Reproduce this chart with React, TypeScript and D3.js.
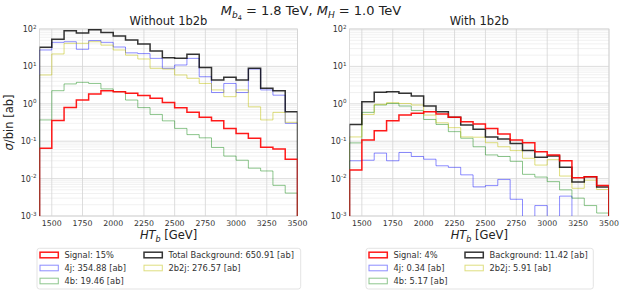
import React from "react";
import * as d3 from "d3";

// ---------- data ----------
const binEdges = [1400, 1500, 1600, 1700, 1800, 1900, 2000, 2100, 2200, 2300, 2400, 2500, 2600, 2700, 2800, 2900, 3000, 3100, 3200, 3300, 3400, 3500];
const xTicks = [1500, 1750, 2000, 2250, 2500, 2750, 3000, 3250, 3500];
const yTickExps = [-3, -2, -1, 0, 1, 2];

// Without 1b2b
const signalL = [0.065, 0.36, 0.8, 1.26, 1.82, 2.24, 2.1, 1.9, 1.66, 1.4, 1.08, 0.79, 0.59, 0.44, 0.35, 0.22, 0.16, 0.12, 0.069, 0.062, 0.033];
const totalL = [32.5, 53, 90, 78, 96, 81, 65, 51, 40, 26, 17, 16.4, 21, 9.4, 4.3, 5.1, 4.3, 8.9, 2.6, 2.24, 0.61];
const j4L = [27.5, 44, 45.7, 28.7, 49, 44, 33, 23, 22, 16.4, 8.9, 10.9, 16.4, 5.3, 2.0, 3.5, 2.0, 8.5, 2.35, 1.7, 0.3];
const b4L = [0.37, 2.24, 3.4, 3.75, 3.5, 2.5, 2.1, 1.26, 0.79, 0.52, 0.35, 0.22, 0.15, 0.123, 0.068, 0.04, 0.031, 0.019, 0.016, 0.0066, 0.0041];
const b2j2L = [5.9, 21.5, 41.5, 41.5, 45.7, 37, 27.5, 20, 15.8, 8.9, 8.5, 5.9, 4.8, 3.5, 2.35, 1.55, 2.35, 0.83, 0.37, 0.59, 0.32];

// With 1b2b
const signalR = [0.017, 0.107, 0.19, 0.35, 0.5, 0.56, 0.61, 0.53, 0.44, 0.33, 0.29, 0.22, 0.155, 0.107, 0.091, 0.052, 0.043, 0.03, 0.0105, 0.0112, 0.0065];
const totalR = [0.28, 1.14, 2.04, 2.1, 1.9, 1.62, 0.87, 0.61, 0.44, 0.27, 0.21, 0.13, 0.115, 0.087, 0.056, 0.037, 0.04, 0.02, 0.0081, 0.0112, 0.006];
const j4R = [0.03, 0.031, 0.048, 0.03, 0.05, 0.039, 0.033, 0.022, 0.02, 0.0126, 0.006, 0.0065, 0.0095, 0.0028, 0, 0.0019, 0, 0.0034, 0, 0, 0];
const b4R = [0.09, 0.59, 0.93, 1.02, 0.87, 0.66, 0.38, 0.28, 0.18, 0.12, 0.071, 0.043, 0.039, 0.029, 0.013, 0.011, 0.0083, 0.005, 0.003, 0.0019, 0.0012];
const b2j2R = [0.13, 0.52, 0.97, 1.07, 1.02, 0.93, 0.5, 0.31, 0.23, 0.13, 0.128, 0.091, 0.071, 0.056, 0.035, 0.023, 0.032, 0.0117, 0.0055, 0.0091, 0.0051];

const legendL = ["Signal: 15%", "4j: 354.88 [ab]", "4b: 19.46 [ab]", "Total Background: 650.91 [ab]", "2b2j: 276.57 [ab]"];
const legendR = ["Signal: 4%", "4j: 0.34 [ab]", "4b: 5.17 [ab]", "Background: 11.42 [ab]", "2b2j: 5.91 [ab]"];

// ---------- styles ----------
const FONT = "DejaVu Sans, sans-serif";
const styles = {
  signal: { stroke: "#ff0000", width: 1.5, opacity: 0.9 },
  total: { stroke: "#000000", width: 1.5, opacity: 0.8 },
  j4: { stroke: "#0000ff", width: 1, opacity: 0.45 },
  b4: { stroke: "#008000", width: 1, opacity: 0.45 },
  b2j2: { stroke: "#bfbf00", width: 1, opacity: 0.5 },
};

type PanelProps = {
  id: string;
  x0: number;
  x1: number;
  title: string;
  data: { signal: number[]; total: number[]; j4: number[]; b4: number[]; b2j2: number[] };
  legend: string[];
  legendBox: { x: number; w: number; col2: number };
  showYLabel: boolean;
};

const Y_TOP = 29;
const Y_BOT = 216;

function stepPath(vals: number[], x: d3.ScaleLinear<number, number>, y: d3.ScaleLogarithmic<number, number>) {
  const low = Y_BOT + 60;
  const yy = (v: number) => (v > 0 ? y(v) : low);
  const p = d3.path();
  p.moveTo(x(binEdges[0]), low);
  vals.forEach((v, i) => {
    p.lineTo(x(binEdges[i]), yy(v));
    p.lineTo(x(binEdges[i + 1]), yy(v));
  });
  p.lineTo(x(binEdges[binEdges.length - 1]), low);
  return p.toString();
}

function Panel({ id, x0, x1, title, data, legend, legendBox, showYLabel }: PanelProps) {
  const x = d3.scaleLinear().domain([1400, 3500]).range([x0, x1]);
  const y = d3.scaleLog().domain([1e-3, 1e2]).range([Y_BOT, Y_TOP]);
  const minor: number[] = [];
  for (let e = -3; e < 2; e++) for (let m = 2; m <= 9; m++) minor.push(m * Math.pow(10, e));
  const order: (keyof typeof styles)[] = ["j4", "b4", "b2j2", "total", "signal"];
  const legendKeys: (keyof typeof styles)[] = ["signal", "j4", "b4", "total", "b2j2"];
  const rowY = [255, 268, 281];
  return (
    <g>
      <defs>
        <clipPath id={`clip-${id}`}>
          <rect x={x0} y={Y_TOP} width={x1 - x0} height={Y_BOT - Y_TOP} />
        </clipPath>
      </defs>
      <rect x={x0} y={Y_TOP} width={x1 - x0} height={Y_BOT - Y_TOP} fill="#fff" />
      {minor.map((v, i) => (
        <line key={`mn${i}`} x1={x0} x2={x1} y1={y(v)} y2={y(v)} stroke="#ebebeb" strokeWidth={0.7} />
      ))}
      {yTickExps.map((e) => (
        <line key={`mj${e}`} x1={x0} x2={x1} y1={y(Math.pow(10, e))} y2={y(Math.pow(10, e))} stroke="#d4d4d4" strokeWidth={0.8} />
      ))}
      {xTicks.map((t) => (
        <line key={`vx${t}`} x1={x(t)} x2={x(t)} y1={Y_TOP} y2={Y_BOT} stroke="#d4d4d4" strokeWidth={0.8} />
      ))}
      <rect x={x0} y={Y_TOP} width={x1 - x0} height={Y_BOT - Y_TOP} fill="none" stroke="#d4d4d4" strokeWidth={0.8} />
      <g clipPath={`url(#clip-${id})`}>
        {order.map((k) => (
          <path
            key={k}
            d={stepPath(data[k], x, y)}
            fill="none"
            stroke={styles[k].stroke}
            strokeWidth={styles[k].width}
            strokeOpacity={styles[k].opacity}
          />
        ))}
      </g>
      {/* y tick labels */}
      {yTickExps.map((e) => (
        <text key={`yl${e}`} x={x0 - 3} y={y(Math.pow(10, e)) + 3} textAnchor="end" fontFamily={FONT} fontSize={8} fill="#333">
          10
          <tspan dy={-3.5} fontSize={5.6}>{e}</tspan>
        </text>
      ))}
      {/* x tick labels */}
      {xTicks.map((t) => (
        <text key={`xl${t}`} x={x(t)} y={226} textAnchor="middle" fontFamily={FONT} fontSize={7.8} fill="#333">
          {t}
        </text>
      ))}
      <text x={(x0 + x1) / 2} y={25} textAnchor="middle" fontFamily={FONT} fontSize={11.5} fill="#222">
        {title}
      </text>
      <text x={(x0 + x1) / 2} y={239} textAnchor="middle" fontFamily={FONT} fontSize={11.5} fill="#222">
        <tspan fontStyle="italic">HT</tspan>
        <tspan fontStyle="italic" fontSize={8} dy={2.5}>b</tspan>
        <tspan dy={-2.5}> [GeV]</tspan>
      </text>
      {showYLabel && (
        <text transform={`translate(13,${(Y_TOP + Y_BOT) / 2}) rotate(-90)`} textAnchor="middle" fontFamily={FONT} fontSize={11.5} fill="#222">
          <tspan fontStyle="italic">σ</tspan>/bin [ab]
        </text>
      )}
      {/* legend */}
      <rect x={legendBox.x} y={248.3} width={legendBox.w} height={40.7} rx={2.5} fill="#fff" stroke="#dcdcdc" strokeWidth={0.8} />
      {legendKeys.map((k, i) => {
        const col = i < 3 ? 0 : 1;
        const row = i < 3 ? i : i - 3;
        const px = legendBox.x + (col === 0 ? 3 : legendBox.col2);
        const cy = rowY[row];
        return (
          <g key={`lg${k}`}>
            <rect x={px} y={cy - 2.8} width={18.3} height={5.6} fill="none" stroke={styles[k].stroke} strokeOpacity={styles[k].opacity} strokeWidth={styles[k].width} />
            <text x={px + 24.5} y={cy + 3} fontFamily={FONT} fontSize={8.3} fill="#333">
              {legend[i]}
            </text>
          </g>
        );
      })}
    </g>
  );
}

export default function App() {
  return (
    <svg width={623} height={292} style={{ display: "block", position: "absolute", left: 0, top: 0 }}>
      <rect width={623} height={292} fill="#fff" />
      <text x={311} y={15} textAnchor="middle" fontFamily={FONT} fontSize={13} fill="#222">
        <tspan fontStyle="italic">M</tspan>
        <tspan fontStyle="italic" fontSize={9} dy={3}>b</tspan>
        <tspan fontSize={6.5} dy={1.5}>4</tspan>
        <tspan dy={-4.5}> = 1.8 TeV, </tspan>
        <tspan fontStyle="italic">M</tspan>
        <tspan fontStyle="italic" fontSize={9} dy={3}>H</tspan>
        <tspan dy={-3}> = 1.0 TeV</tspan>
      </text>
      <Panel
        id="L"
        x0={39.5}
        x1={297.5}
        title="Without 1b2b"
        data={{ signal: signalL, total: totalL, j4: j4L, b4: b4L, b2j2: b2j2L }}
        legend={legendL}
        legendBox={{ x: 37, w: 263.7, col2: 107 }}
        showYLabel={true}
      />
      <Panel
        id="R"
        x0={349.5}
        x1={609}
        title="With 1b2b"
        data={{ signal: signalR, total: totalR, j4: j4R, b4: b4R, b2j2: b2j2R }}
        legend={legendR}
        legendBox={{ x: 366, w: 227.3, col2: 99 }}
        showYLabel={false}
      />
    </svg>
  );
}
